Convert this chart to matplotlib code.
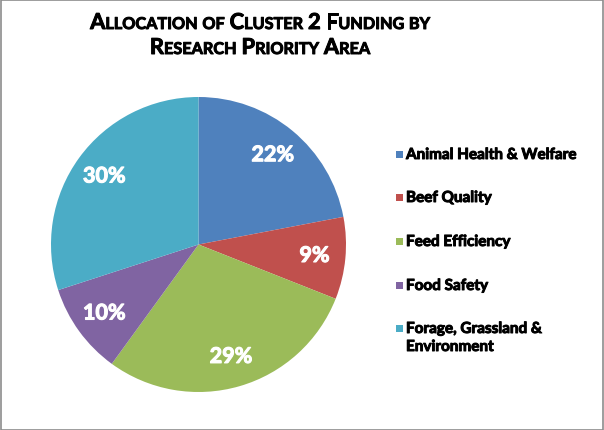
import matplotlib
matplotlib.use('Agg')
import matplotlib.pyplot as plt
import matplotlib.patheffects as pe
from matplotlib.patches import Rectangle

plt.rcParams['font.family'] = ['Lato', 'DejaVu Sans']

#Data
categories = ['Animal Health & Welfare', 'Beef Quality', 'Feed Efficiency',
              'Food Safety', 'Forage, Grassland &\nEnvironment']
shares = [22, 9, 29, 10, 30]
colors = ['#4F81BD', '#C0504D', '#9BBB59', '#8064A2', '#4BACC6']
title_lines = ['Allocation of Cluster 2 Funding by', 'Research Priority Area']

W, H = 604, 431
fig = plt.figure(figsize=(W / 100, H / 100), dpi=100)
fig.patch.set_facecolor('white')
fig.patches.append(Rectangle((0.5 / W, 0.5 / H), 1 - 1.5 / W, 1 - 1.5 / H,
                             transform=fig.transFigure, fill=False,
                             edgecolor='#8c8c8c', linewidth=1.2))

# fake a heavier weight with a thin stroke
heavy_black = [pe.withStroke(linewidth=0.7, foreground='black')]
heavy_white = [pe.withStroke(linewidth=0.8, foreground='white')]

# pie: centre (198.5, 245.5) px, radius 147.5 px
cx, cy, r = 198.5, 245.5, 147.5
ax = fig.add_axes([(cx - r) / W, (H - cy - r) / H, 2 * r / W, 2 * r / H])
wedges, texts, autotexts = ax.pie(
    shares, colors=colors, startangle=90, counterclock=False,
    autopct='%d%%', pctdistance=0.79,
    wedgeprops=dict(linewidth=0),
    textprops=dict(color='white', fontsize=15.5, fontweight='bold',
                   path_effects=heavy_white))
ax.set_xlim(-1, 1)
ax.set_ylim(-1, 1)
ax.axis('off')

# legend drawn by hand so the square sits on the first line
row_y = [155, 198, 242, 286, 329]
for lab, col, y in zip(categories, colors, row_y):
    fig.patches.append(Rectangle((396 / W, (H - y - 3.5) / H), 7 / W, 7 / H,
                                 transform=fig.transFigure, facecolor=col,
                                 edgecolor='none'))
    for i, part in enumerate(lab.split('\n')):
        fig.text(406 / W, (H - y - 5 - 18 * i) / H, part, fontsize=11,
                 fontweight='bold', va='baseline', ha='left', color='black',
                 path_effects=heavy_black)

# small-caps title built from pieces
renderer = fig.canvas.get_renderer()
big, small = 15.8, 11.7
for line, yc in zip(title_lines, [30, 55]):
    pieces = []
    for k, word in enumerate(line.split(' ')):
        if k > 0:
            pieces.append((' ', small))
        if word[0].isupper() or word[0].isdigit():
            pieces.append((word[0], big))
            if len(word) > 1:
                pieces.append((word[1:].upper(), small))
        else:
            pieces.append((word.upper(), small))
    arts = []
    for txt, sz in pieces:
        t = fig.text(0, (H - yc) / H, txt, fontsize=sz, fontweight='bold',
                     va='baseline', ha='left', path_effects=heavy_black)
        arts.append(t)
    widths = [a.get_window_extent(renderer).width for a in arts]
    # spaces get measured as zero-ish, give them a fixed width
    widths = [w if p[0] != ' ' else 5 for w, p in zip(widths, pieces)]
    x = 260 - sum(widths) / 2
    for a, w in zip(arts, widths):
        a.set_x(x / W)
        x += w

fig.savefig('out.png', dpi=100)
